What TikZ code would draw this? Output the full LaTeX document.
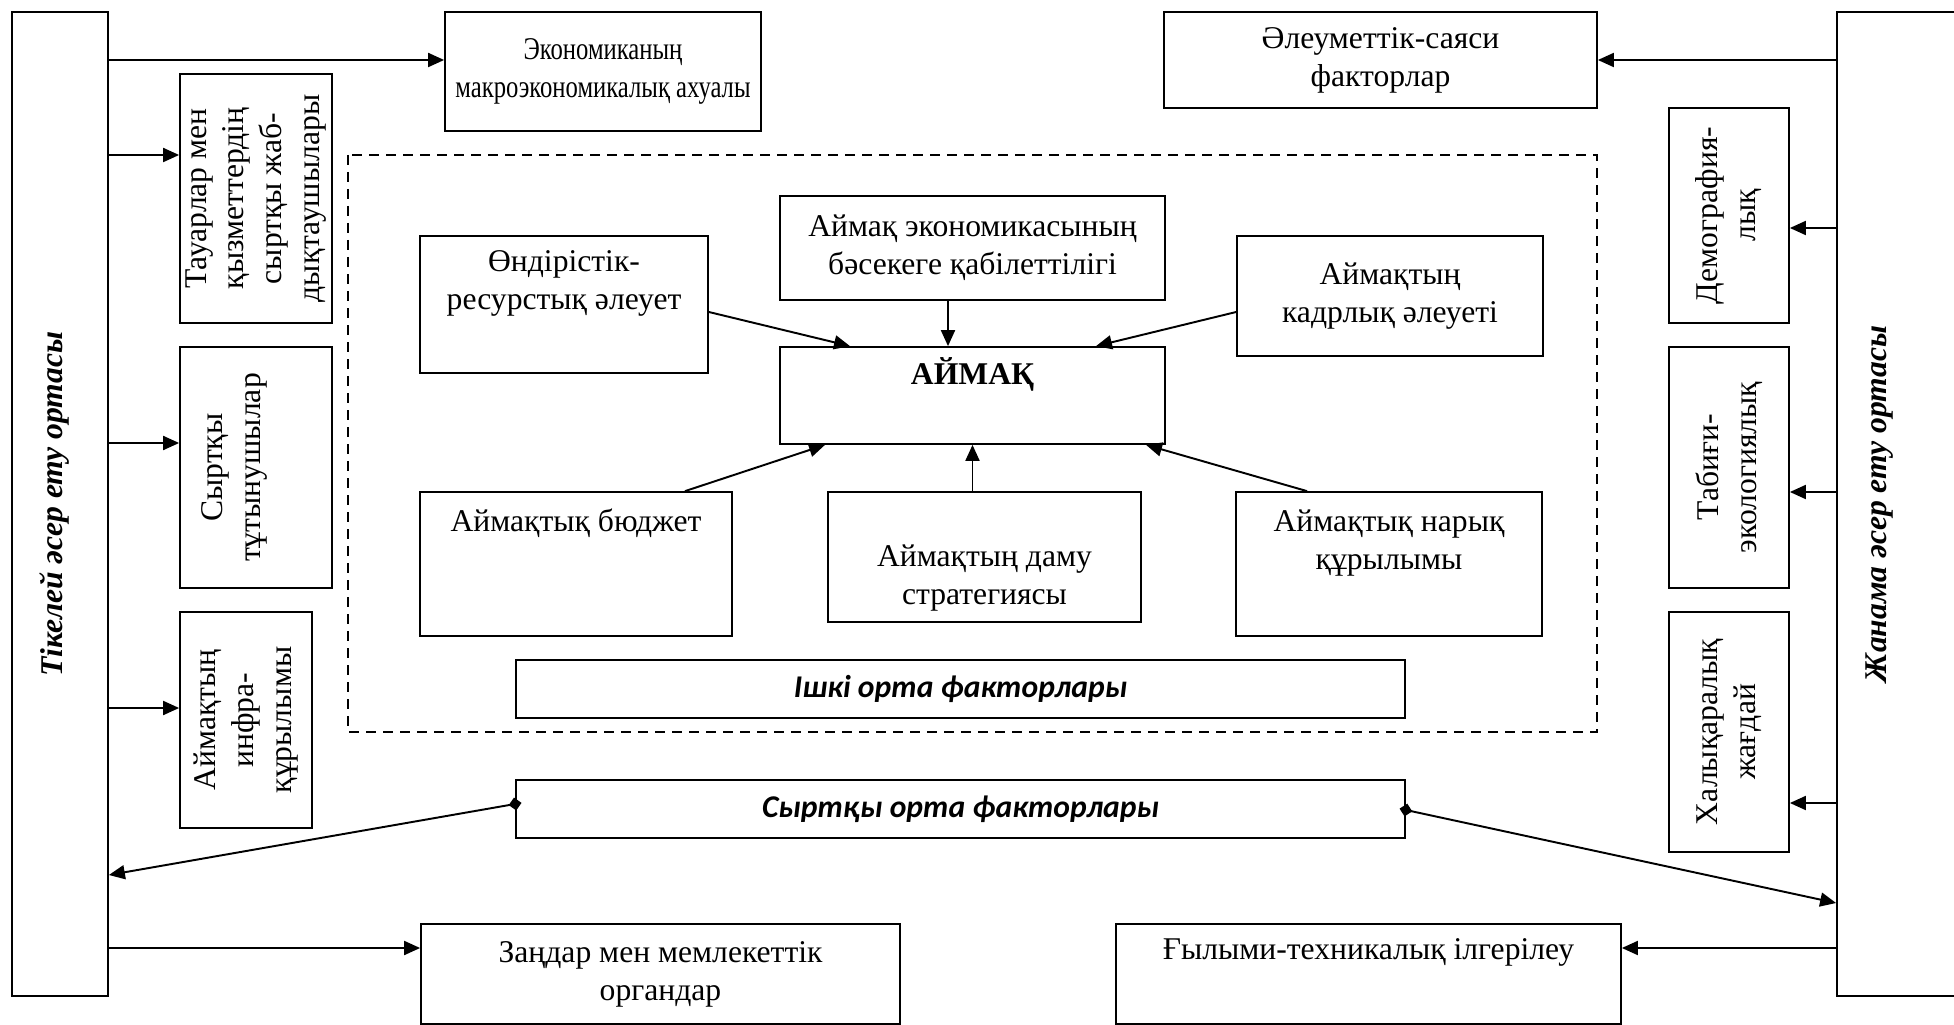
\documentclass[tikz,border=0pt]{standalone}
\usepackage{fontspec}
\setmainfont{Liberation Serif}
\newfontfamily\calibri{Carlito}
\newfontfamily\narrowserif[FakeStretch=0.78]{Liberation Serif}
\usetikzlibrary{arrows.meta}

\tikzset{
	box/.style={draw, line width=1pt, align=center, inner sep=0pt, font=\fontsize{18}{21.6}\selectfont},
	sidebox/.style={box, rotate=90},
	envbox/.style={draw, line width=1pt, inner sep=0pt},
	envtext/.style={rotate=90, font=\fontsize{18}{21.6}\selectfont\bfseries\itshape},
	factbox/.style={draw, line width=1pt, inner sep=0pt, minimum width=177.8mm, minimum height=11.6mm, font=\calibri\fontsize{18}{21.6}\selectfont\bfseries\itshape},
	arr/.style={line width=1.1pt, -{Triangle[length=3.2mm,width=2.8mm]}},
	twoway/.style={line width=1.1pt, shorten <=-1.3mm, {Turned Square[length=2.6mm,width=2.6mm]}-{Triangle[length=3.2mm,width=2.8mm]}},
	dashframe/.style={line width=0.8pt, dash pattern=on 2mm off 1.4mm}
}

\begin{document}
\begin{tikzpicture}[x=0.2mm, y=-0.2mm]
	\useasboundingbox (0,0) rectangle (1954,1025);
	\clip (0,0) rectangle (1954,1025);
	
	%environments
	\node (tikelei) [envbox, minimum width=19.2mm, minimum height=196.8mm, label={[xshift=-1.1mm, envtext]center:Тікелей әсер ету ортасы}] at (60,504) {};
	\node (zhanama) [envbox, minimum width=24.6mm, minimum height=196.8mm, label={[xshift=-3.7mm, envtext]center:Жанама әсер ету ортасы}] at (1898.5,504) {};
	
	%outer factors
	\node (ekon) [box, minimum width=63.2mm, minimum height=23.8mm, font=\narrowserif\fontsize{18}{21.6}\selectfont] at (603,71.5) {Экономиканың\\макроэкономикалық ахуалы};
	\node (sotsial) [box, minimum width=86.6mm, minimum height=19.2mm] at (1380.5,60) {Әлеуметтік-саяси\\факторлар};
	\node (tauar) [sidebox, minimum width=49.8mm, minimum height=30.4mm] at (256,198.5) {Тауарлар мен\\қызметтердің\\сыртқы жаб-\\дықтаушылары};
	\node (tutynu) [sidebox, minimum width=48.2mm, minimum height=30.4mm] at (256,467.5) {Сыртқы\\тұтынушылар\\\strut};
	\node (infra) [sidebox, minimum width=43.2mm, minimum height=26.4mm] at (246,720) {Аймақтың\\инфра-\\құрылымы};
	\node (demogr) [sidebox, minimum width=43mm, minimum height=24mm] at (1729,215.5) {Демография-\\лық};
	\node (tabigi) [sidebox, minimum width=48.2mm, minimum height=24mm] at (1729,467.5) {Табиғи-\\экологиялық};
	\node (halyk) [sidebox, minimum width=48mm, minimum height=24mm] at (1729,732) {Халықаралық\\жағдай};
	\node (zandar) [box, minimum width=95.8mm, minimum height=20mm] at (660.5,974) {Заңдар мен мемлекеттік\\органдар};
	\node (gylym) [box, minimum width=101mm, minimum height=20mm] at (1368.5,974) {Ғылыми-техникалық ілгерілеу\\\strut};
	
	%inner factors
	\draw[dashframe] (348,155) rectangle (1597,732);
	\node (ondiris) [box, minimum width=57.6mm, minimum height=27.4mm] at (564,304.5) {Өндірістік-\\ресурстық әлеует\\\strut};
	\node (basekege) [box, minimum width=77mm, minimum height=20.8mm] at (972.5,248) {Аймақ экономикасының\\бәсекеге қабілеттілігі};
	\node (aimak) [box, minimum width=77mm, minimum height=19.4mm] at (972.5,395.5) {\textbf{АЙМАҚ}\\\strut};
	\node (kadr) [box, minimum width=61.2mm, minimum height=24mm] at (1390,296) {Аймақтың\\кадрлық әлеуеті};
	\node (budget) [box, minimum width=62.4mm, minimum height=28.8mm] at (576,564) {Аймақтық бюджет\\\strut\\\strut};
	\node (damu) [box, minimum width=62.6mm, minimum height=26mm] at (984.5,557) {\strut\\Аймақтың даму\\стратегиясы};
	\node (naryk) [box, minimum width=61.2mm, minimum height=28.8mm] at (1389,564) {Аймақтық нарық\\құрылымы\\\strut};
	\node (ishki) [factbox] at (960.5,689) {Ішкі орта факторлары};
	\node (syrtky) [factbox] at (960.5,809) {Сыртқы орта факторлары};
	
	%arrows into the region
	\draw[arr] (ondiris.east |- 0,312) -- (850,0 |- aimak.north);
	\draw[arr] (948,0 |- basekege.south) -- (948,0 |- aimak.north);
	\draw[arr] (kadr.west |- 0,312) -- (1096,0 |- aimak.north);
	\draw[arr] (685,0 |- budget.north) -- (825,0 |- aimak.south);
	\draw[arr] (damu.north -| aimak.south) -- (aimak.south);
	\draw[arr] (1307,0 |- naryk.north) -- (1146,0 |- aimak.south);
	
	%direct influence (side boxes are turned, so their left side is north)
	\foreach \y/\n in {60/ekon.west, 155/tauar.north, 443/tutynu.north, 708/infra.north, 948/zandar.west}{
		\draw[arr] (tikelei.east |- 0,\y) -- (\n |- 0,\y);
	}
	%indirect influence
	\foreach \y/\n in {60/sotsial.east, 228/demogr.south, 492/tabigi.south, 803/halyk.south, 948/gylym.east}{
		\draw[arr] (zhanama.west |- 0,\y) -- (\n |- 0,\y);
	}
	
	\draw[twoway] (syrtky.west |- 0,804) -- (tikelei.east |- 0,875);
	\draw[twoway] (syrtky.east |- 0,810) -- (zhanama.west |- 0,903);
\end{tikzpicture}
\end{document}
